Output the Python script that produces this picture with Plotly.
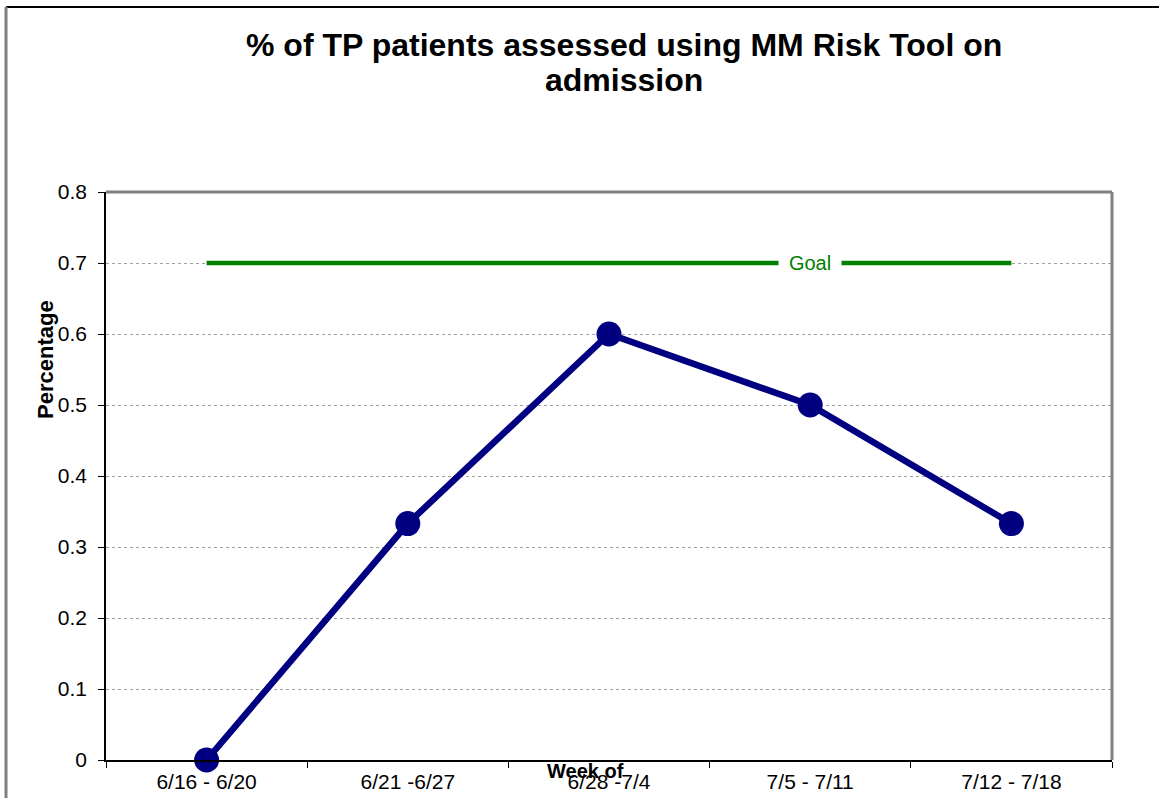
import plotly.graph_objects as go

categories = ["6/16 - 6/20", "6/21 -6/27", "6/28 -7/4", "7/5 - 7/11", "7/12 - 7/18"]
percentages = [0.0, 0.333, 0.6, 0.5, 0.333]
goal_value = 0.7
goal_values = [goal_value] * len(categories)
y_ticks = [0, 0.1, 0.2, 0.3, 0.4, 0.5, 0.6, 0.7, 0.8]
title_lines = ["% of TP patients assessed using MM Risk Tool on", "admission"]

FONT = "Liberation Sans, Arial, sans-serif"

L, R, T, B = 106, 1112, 192, 760
W, H = R - L, B - T
def px(xp):
    return (xp - L) / W
def py(yp):
    return (B - yp) / H

fig = go.Figure()
fig.add_trace(go.Scatter(
    x=categories, y=goal_values, mode="lines",
    line=dict(color="#008000", width=4.5), hoverinfo="skip", showlegend=False,
))
fig.add_trace(go.Scatter(
    x=categories, y=percentages, mode="lines+markers",
    line=dict(color="#000080", width=6.5),
    marker=dict(color="#000080", size=25),
    showlegend=False, cliponaxis=False,
))

fig.add_annotation(x=categories[3], y=goal_value, text="Goal", showarrow=False,
                   font=dict(family=FONT, size=20, color="#008000"),
                   bgcolor="white", borderpad=0, xanchor="center", yanchor="middle",
                   width=62)

fig.add_annotation(x=px(585), y=py(771), xref="paper", yref="paper", text="<b>Week of</b>",
                   showarrow=False, font=dict(family=FONT, size=20, color="black"),
                   xanchor="center", yanchor="middle")
fig.add_annotation(x=px(45), y=py(360), xref="paper", yref="paper", text="<b>Percentage</b>",
                   showarrow=False, textangle=-90, font=dict(family=FONT, size=22, color="black"),
                   xanchor="center", yanchor="middle")
for line, yc in zip(title_lines, [45, 80]):
    fig.add_annotation(x=px(624), y=py(yc), xref="paper", yref="paper", text=f"<b>{line}</b>",
                       showarrow=False, font=dict(family=FONT, size=32, color="black"),
                       xanchor="center", yanchor="middle")

shapes = [
    dict(type="line", xref="paper", yref="paper", x0=0, x1=1, y0=1, y1=1,
         line=dict(color="#808080", width=3)),
    dict(type="line", xref="paper", yref="paper", x0=1, x1=1, y0=0, y1=1,
         line=dict(color="#808080", width=3)),
    dict(type="line", xref="paper", yref="paper", x0=px(6), x1=px(1160), y0=py(7), y1=py(7),
         line=dict(color="black", width=2)),
    dict(type="line", xref="paper", yref="paper", x0=px(6), x1=px(6), y0=py(7), y1=py(800),
         line=dict(color="#808080", width=3)),
]

fig.update_layout(
    width=1159, height=798,
    margin=dict(l=L, r=1159 - R, t=T, b=798 - B, autoexpand=False),
    paper_bgcolor="white", plot_bgcolor="white",
    font=dict(family=FONT, size=20, color="black"),
    shapes=shapes,
    xaxis=dict(
        type="category", categoryorder="array", categoryarray=categories,
        range=[-0.5, 4.5], showgrid=False, showline=True, linecolor="black", linewidth=1.5,
        ticks="outside", tickson="boundaries", ticklen=6, tickcolor="black",
        ticklabelstandoff=2,
        tickfont=dict(family=FONT, size=21), zeroline=False, automargin=False,
    ),
    yaxis=dict(
        range=[0, 0.8], tickvals=y_ticks, ticktext=[f"{v:g}" for v in y_ticks],
        showgrid=True, gridcolor="#a0a0a0", griddash="dot", gridwidth=1,
        showline=True, linecolor="black", linewidth=1.5,
        ticks="outside", ticklen=6, tickcolor="black", ticklabelstandoff=7,
        tickfont=dict(family=FONT, size=21), zeroline=False, automargin=False,
    ),
)

fig.write_html("out.html", config={"displayModeBar": False},
               post_script="document.body.style.margin='0';")
